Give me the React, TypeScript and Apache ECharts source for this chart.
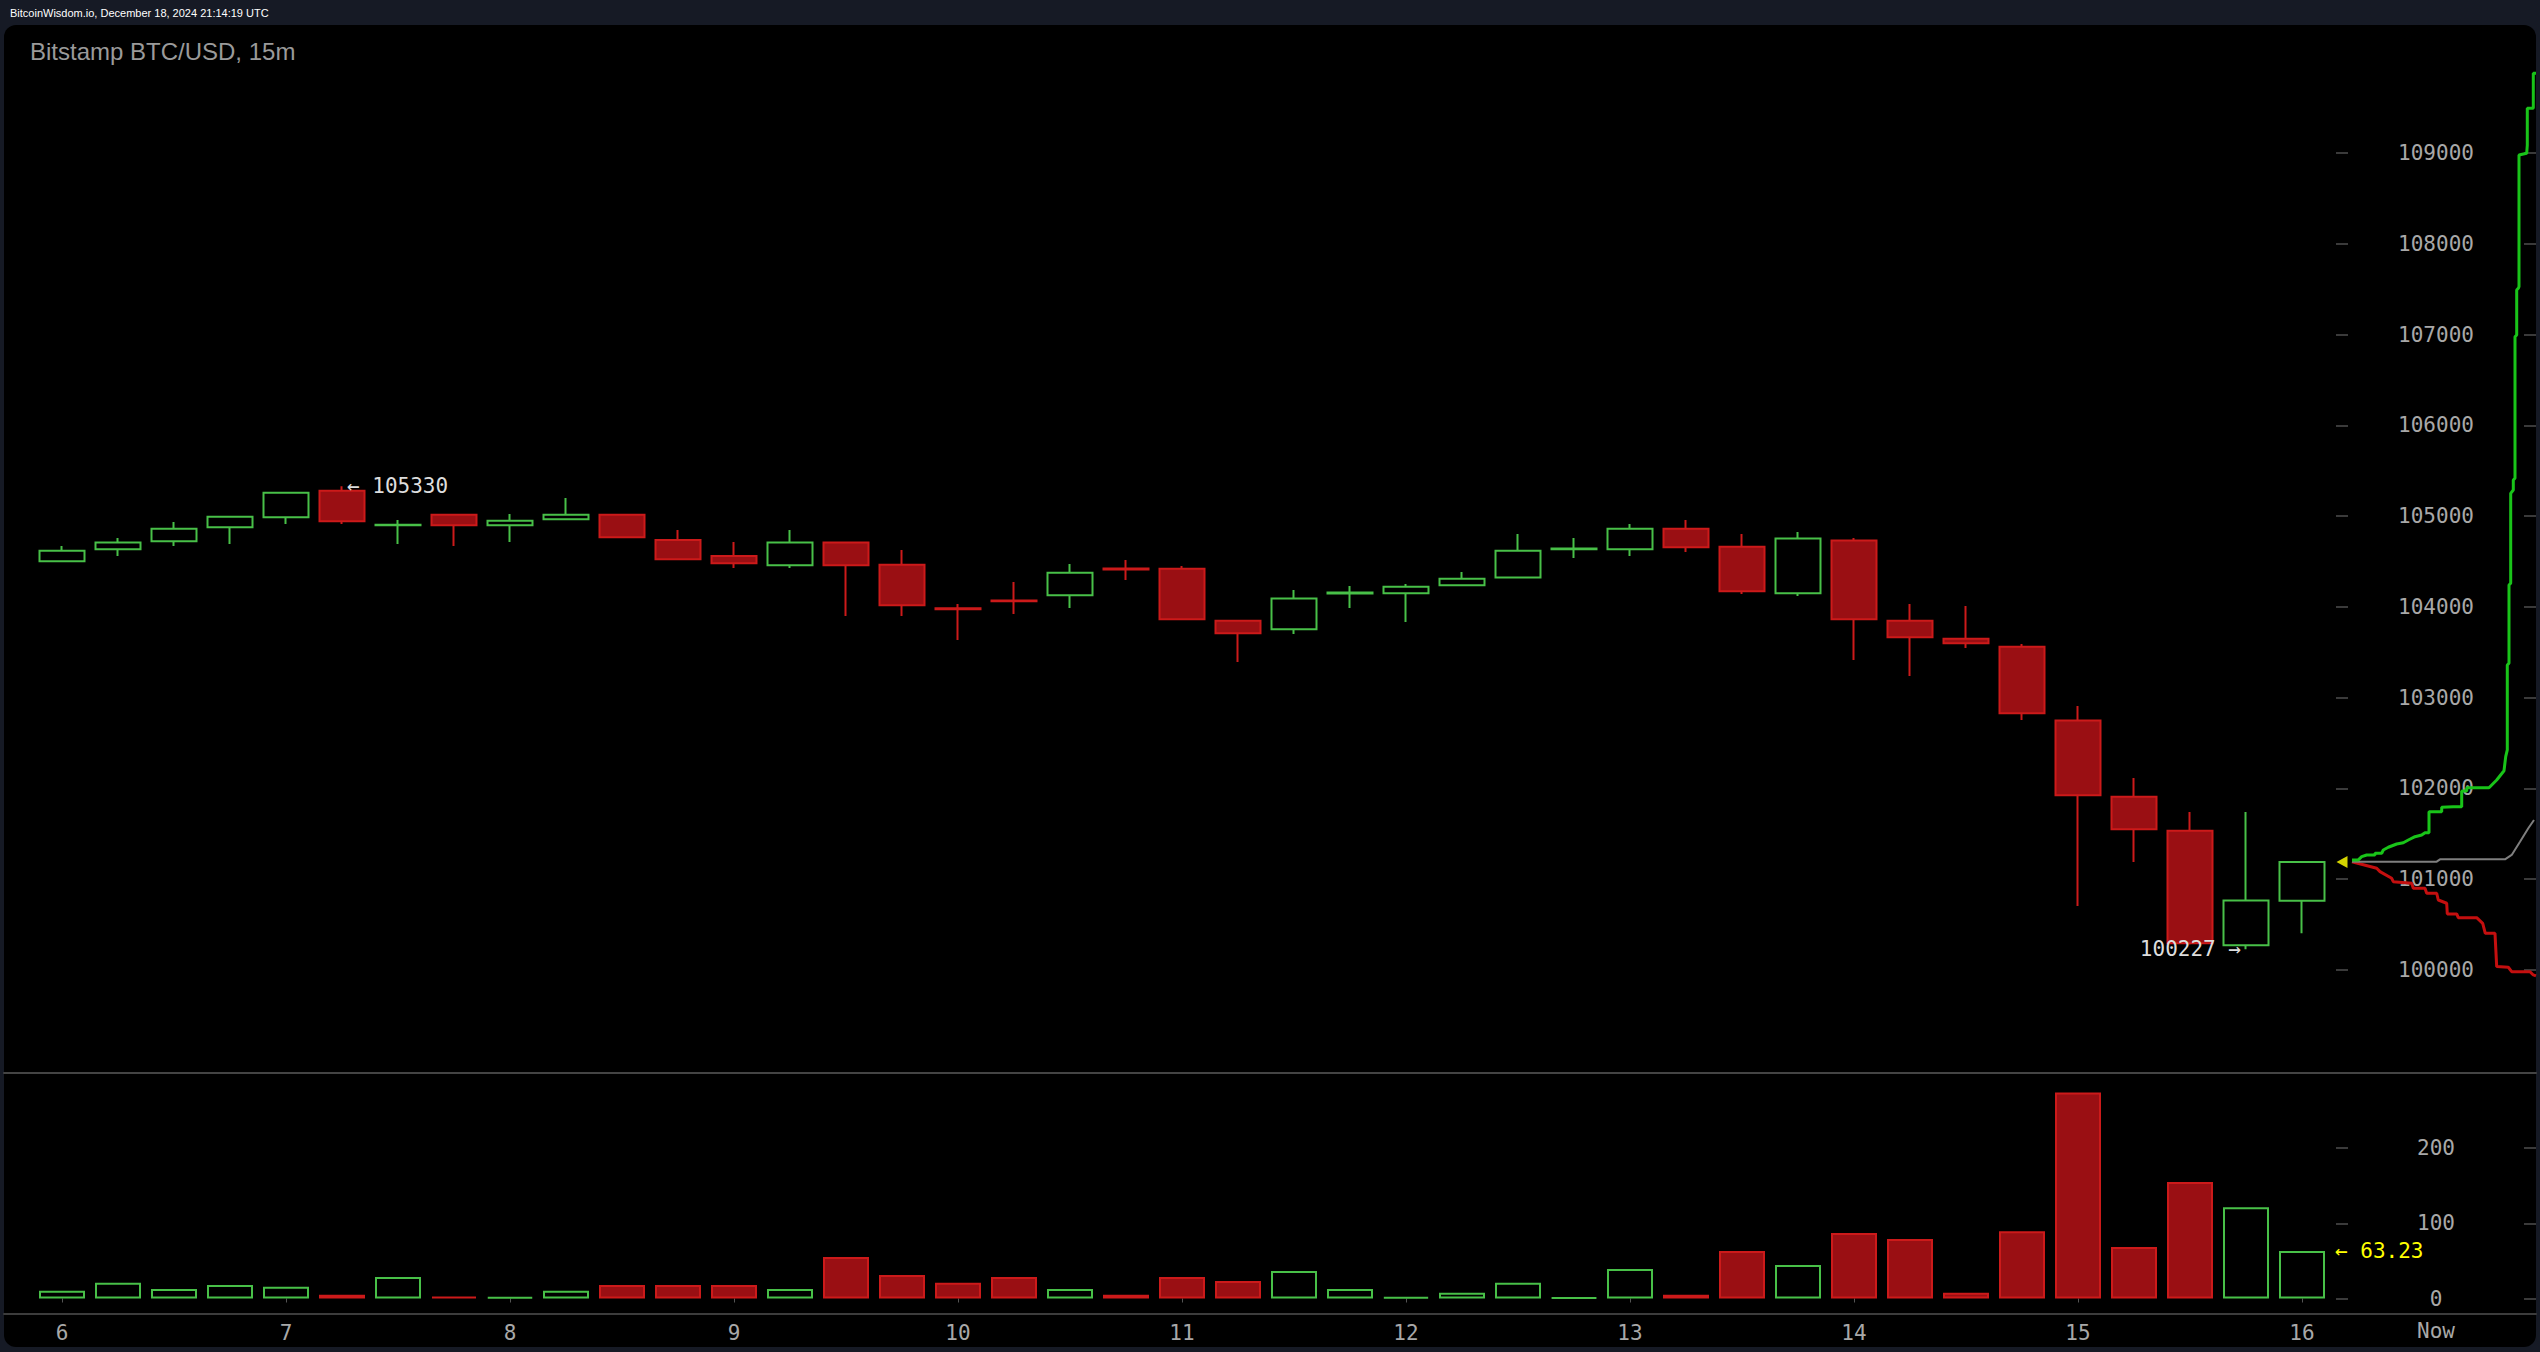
import React, { useEffect, useRef } from "react";
import * as echarts from "echarts";

// ---- data ----
const times = [
  "06:00", "06:15", "06:30", "06:45", "07:00", "07:15", "07:30", "07:45",
  "08:00", "08:15", "08:30", "08:45", "09:00", "09:15", "09:30", "09:45",
  "10:00", "10:15", "10:30", "10:45", "11:00", "11:15", "11:30", "11:45",
  "12:00", "12:15", "12:30", "12:45", "13:00", "13:15", "13:30", "13:45",
  "14:00", "14:15", "14:30", "14:45", "15:00", "15:15", "15:30", "15:45",
  "16:00",
];

const openP = [
  104502, 104634, 104722, 104877, 104987, 105280, 104900, 105016, 104898, 104965,
  105016, 104737, 104561, 104458, 104708, 104465, 103985, 104070, 104127, 104422,
  104421, 103848, 103753, 104148, 104149, 104237, 104325, 104634, 104634, 104862,
  104663, 104149, 104730, 103848, 103650, 103562, 102747, 101909, 101535, 100272,
  100763,
];
const closeP = [
  104619, 104708, 104862, 104994, 105258, 104943, 104905, 104898, 104950, 105016,
  104766, 104524, 104480, 104708, 104458, 104017, 103975, 104062, 104377, 104412,
  103863, 103709, 104091, 104158, 104223, 104311, 104619, 104642, 104862, 104656,
  104171, 104752, 103863, 103665, 103599, 102827, 101924, 101550, 100294, 100764,
  101190,
];
const highP = [
  104671, 104759, 104935, 105000, 105265, 105330, 104957, 105020, 105023, 105200,
  105020, 104847, 104715, 104847, 104712, 104627, 104032, 104274, 104473, 104517,
  104451, 103850, 104186, 104230, 104252, 104384, 104803, 104759, 104913, 104957,
  104803, 104825, 104759, 104032, 104010, 103591, 102908, 102115, 101741, 101741,
  101195,
];
const lowP = [
  104495, 104561, 104671, 104693, 104913, 104913, 104693, 104671, 104715, 104960,
  104760, 104520, 104428, 104428, 103900, 103900, 103635, 103922, 103988, 104296,
  103860, 103393, 103701, 103988, 103834, 104235, 104320, 104539, 104561, 104605,
  104142, 104120, 103415, 103239, 103547, 102754, 100705, 101190, 100280, 100227,
  100404,
];
const volumes = [
  10.2, 20.8, 12.8, 18.1, 15.5, 4.9, 28.7, 2.6, 2.0, 10.2,
  18.1, 18.1, 18.1, 12.8, 55.2, 31.3, 20.8, 28.7, 12.8, 4.9,
  28.7, 23.4, 36.6, 12.8, 2.2, 7.5, 20.8, 1.5, 39.3, 4.9,
  63.1, 44.6, 87.0, 79.0, 7.5, 89.6, 274, 68.4, 155, 121.4,
  63.23,
];

// order-book depth overlay: [cumulative depth, price]
const askDepth = [
  [0, 101212], [6.3, 101212], [9.7, 101248], [14.7, 101267], [23, 101267], [23, 101286],
  [29.7, 101286], [31.3, 101322], [36.3, 101352], [44.7, 101388], [51.3, 101402],
  [56.3, 101432], [63, 101468], [69.7, 101487], [73, 101512], [77, 101512], [77, 101744],
  [89.7, 101744], [89.7, 101792], [101.3, 101799], [109.7, 101799], [109.7, 101972],
  [114.7, 101972], [114.7, 102008], [137, 102008], [144.7, 102093], [152, 102195],
  [153.7, 102350], [155.3, 102424], [155.3, 103360], [157, 103379], [157, 104241],
  [158.7, 104260], [158.7, 105251], [161.3, 105288], [161.3, 105398], [163, 105417],
  [163, 106976], [164.7, 106995], [164.7, 107491], [166.3, 107510], [167, 107527],
  [167, 108978], [174.7, 108997], [175.3, 109088], [175.3, 109492], [181.3, 109492],
  [181.3, 109878], [184, 109878],
];
const bidDepth = [
  [0, 101193], [24.7, 101120], [28, 101083], [39.7, 101010], [41.3, 100973], [59.7, 100955],
  [61.3, 100900], [73, 100900], [74.7, 100845], [84.7, 100845], [86.3, 100771],
  [94.7, 100735], [95.3, 100617], [104.7, 100617], [106.3, 100576], [124.7, 100576],
  [130.7, 100514], [133.3, 100404], [143, 100404], [144.7, 100037], [156.3, 100030],
  [159.7, 99981], [178, 99981], [181.3, 99945], [184, 99934],
];
const ratioLine = [
  [0, 101193], [84.7, 101193], [88, 101219], [153, 101219], [159.7, 101267],
  [168, 101413], [176.3, 101561], [182, 101652],
];

const priceTicks = [100000, 101000, 102000, 103000, 104000, 105000, 106000, 107000, 108000, 109000];
const volumeTicks = [0, 100, 200];

const PRICE_MIN = 98865;
const PRICE_MAX = 110245;
const VOL_MAX = 300;
const DEPTH_MAX = 184;

const UP = "#48c048";
const DOWN_FILL = "#9a0f13";
const DOWN_BORDER = "#cc1a1a";
const MONO = "'DejaVu Sans Mono', monospace";
const SANS = "'Liberation Sans', Arial, sans-serif";
const TICK_COLOR = "#3a3a3a";
const LABEL_COLOR = "#a8a8a8";

export default function App() {
  const ref = useRef<HTMLDivElement>(null);

  useEffect(() => {
    if (!ref.current) return;
    const chart = echarts.init(ref.current, undefined, { renderer: "svg" });

    const candles = times.map((_, i) => [openP[i], closeP[i], lowP[i], highP[i]]);
    let hiIdx = 0;
    let loIdx = 0;
    highP.forEach((v, i) => { if (v > highP[hiIdx]) hiIdx = i; });
    lowP.forEach((v, i) => { if (v < lowP[loIdx]) loIdx = i; });
    const lastIdx = times.length - 1;

    const volData = volumes.map((v, i) => {
      const up = closeP[i] >= openP[i];
      return {
        value: v,
        itemStyle: up
          ? { color: "rgba(0,0,0,0)", borderColor: UP, borderWidth: 2 }
          : { color: DOWN_FILL, borderColor: DOWN_BORDER, borderWidth: 2 },
      };
    });

    const sideTicksAxis = (gridIndex: number, min: number, max: number, ticks: number[]) => ({
      gridIndex,
      type: "value",
      position: "right",
      offset: 222,
      min,
      max,
      axisLine: { show: false },
      axisTick: { show: true, length: 12, customValues: ticks, lineStyle: { color: TICK_COLOR, width: 2 } },
      axisLabel: { show: false },
      splitLine: { show: false },
    });

    const plain = (v: number) => String(v);

    const option: any = {
      animation: false,
      backgroundColor: "transparent",
      title: [
        {
          text: "BitcoinWisdom.io, December 18, 2024 21:14:19 UTC",
          left: 10,
          top: 7,
          padding: 0,
          textStyle: { color: "#ffffff", fontSize: 11, fontWeight: "normal", fontFamily: SANS },
        },
        {
          text: "Bitstamp BTC/USD, 15m",
          left: 30,
          top: 39,
          padding: 0,
          textStyle: { color: "#9a9a9a", fontSize: 24, fontWeight: "normal", fontFamily: SANS },
        },
        {
          text: "Now",
          left: 2417,
          top: 1320,
          padding: 0,
          textStyle: { color: LABEL_COLOR, fontSize: 21, fontWeight: "normal", fontFamily: MONO },
        },
      ],
      grid: [
        { left: 62, right: 238, top: 40, bottom: 279 },
        { left: 62, right: 238, top: 1073, bottom: 53.5 },
        { left: 2352, right: 4, top: 40, bottom: 279 },
        { left: 4, right: 4, top: 1073, bottom: 38 },
      ],
      xAxis: [
        { gridIndex: 0, type: "category", data: times, boundaryGap: false, show: false },
        {
          gridIndex: 1,
          type: "category",
          data: times,
          boundaryGap: false,
          offset: 16,
          axisLine: { show: false },
          axisTick: { show: true, interval: 3, length: 4, lineStyle: { color: "#555", width: 1 } },
          axisLabel: {
            interval: 3,
            margin: 8,
            color: LABEL_COLOR,
            fontSize: 21,
            fontFamily: MONO,
            formatter: (v: string) => (v.endsWith(":00") ? String(parseInt(v, 10)) : ""),
          },
          splitLine: { show: false },
        },
        { gridIndex: 2, type: "value", min: 0, max: DEPTH_MAX, show: false },
        {
          gridIndex: 3, type: "value", min: 0, max: 1, position: "bottom",
          axisLine: { show: true, lineStyle: { color: "#3c3c3c", width: 2 } },
          axisTick: { show: false }, axisLabel: { show: false }, splitLine: { show: false },
        },
        {
          gridIndex: 3, type: "value", min: 0, max: 1, position: "top",
          axisLine: { show: true, lineStyle: { color: "#444", width: 2 } },
          axisTick: { show: false }, axisLabel: { show: false }, splitLine: { show: false },
        },
      ],
      yAxis: [
        {
          gridIndex: 0,
          type: "value",
          position: "right",
          offset: 34,
          min: PRICE_MIN,
          max: PRICE_MAX,
          axisLine: { show: false },
          axisTick: { show: true, length: 12, customValues: priceTicks, lineStyle: { color: TICK_COLOR, width: 2 } },
          axisLabel: {
            customValues: priceTicks,
            formatter: plain,
            align: "center",
            margin: 100,
            color: LABEL_COLOR,
            fontSize: 21,
            fontFamily: MONO,
          },
          splitLine: { show: false },
        },
        sideTicksAxis(0, PRICE_MIN, PRICE_MAX, priceTicks),
        {
          gridIndex: 1,
          type: "value",
          position: "right",
          offset: 34,
          min: 0,
          max: VOL_MAX,
          axisLine: { show: false },
          axisTick: { show: true, length: 12, customValues: volumeTicks, lineStyle: { color: TICK_COLOR, width: 2 } },
          axisLabel: {
            customValues: volumeTicks,
            formatter: plain,
            align: "center",
            margin: 100,
            color: LABEL_COLOR,
            fontSize: 21,
            fontFamily: MONO,
          },
          splitLine: { show: false },
        },
        sideTicksAxis(1, 0, VOL_MAX, volumeTicks),
        { gridIndex: 2, type: "value", min: PRICE_MIN, max: PRICE_MAX, show: false },
        { gridIndex: 3, type: "value", min: 0, max: 1, show: false },
      ],
      series: [
        {
          name: "BTC/USD",
          type: "candlestick",
          xAxisIndex: 0,
          yAxisIndex: 0,
          data: candles,
          barWidth: 46,
          clip: false,
          itemStyle: {
            color: "rgba(0,0,0,0)",
            color0: DOWN_FILL,
            borderColor: UP,
            borderColor0: DOWN_BORDER,
            borderWidth: 2,
          },
          markPoint: {
            symbol: "circle",
            symbolSize: 0,
            data: [
              {
                coord: [hiIdx, highP[hiIdx]],
                label: { show: true, position: "right", distance: 5, formatter: "← " + highP[hiIdx] },
              },
              {
                coord: [loIdx, lowP[loIdx]],
                label: { show: true, position: "left", distance: 5, formatter: lowP[loIdx] + " →" },
              },
            ],
            label: { color: "#dddddd", fontSize: 21, fontFamily: MONO },
          },
        },
        {
          name: "Volume",
          type: "bar",
          xAxisIndex: 1,
          yAxisIndex: 2,
          data: volData,
          barWidth: 46,
          clip: false,
          markPoint: {
            symbol: "circle",
            symbolSize: 0,
            data: [
              {
                coord: [lastIdx, volumes[lastIdx]],
                label: {
                  show: true,
                  position: "right",
                  distance: 33,
                  formatter: "← " + volumes[lastIdx].toFixed(2),
                },
              },
            ],
            label: { color: "#ffff00", fontSize: 21, fontFamily: MONO },
          },
        },
        {
          name: "Ask depth",
          type: "line",
          xAxisIndex: 2,
          yAxisIndex: 4,
          data: askDepth,
          showSymbol: false,
          lineStyle: { color: "#19c419", width: 3 },
          z: 4,
          markPoint: {
            symbol: "triangle",
            symbolSize: [12, 11],
            symbolRotate: 90,
            symbolOffset: [-10, 0],
            itemStyle: { color: "#d4d400" },
            label: { show: false },
            data: [{ coord: [0, closeP[lastIdx]] }],
          },
        },
        {
          name: "Bid depth",
          type: "line",
          xAxisIndex: 2,
          yAxisIndex: 4,
          data: bidDepth,
          showSymbol: false,
          lineStyle: { color: "#c40f0f", width: 3 },
          z: 3,
        },
        {
          name: "Ratio",
          type: "line",
          xAxisIndex: 2,
          yAxisIndex: 4,
          data: ratioLine,
          showSymbol: false,
          lineStyle: { color: "#7f7f7f", width: 2 },
          z: 3,
        },
      ],
    };

    chart.setOption(option);
    return () => chart.dispose();
  }, []);

  return (
    <div
      style={{
        position: "fixed",
        left: 0,
        top: 0,
        width: 2540,
        height: 1352,
        background: "#161a25",
        overflow: "hidden",
      }}
    >
      <div
        style={{
          position: "absolute",
          left: 4,
          top: 25,
          width: 2532,
          height: 1322,
          background: "#000000",
          borderRadius: 12,
        }}
      />
      <div ref={ref} style={{ position: "absolute", left: 0, top: 0, width: 2540, height: 1352 }} />
    </div>
  );
}
